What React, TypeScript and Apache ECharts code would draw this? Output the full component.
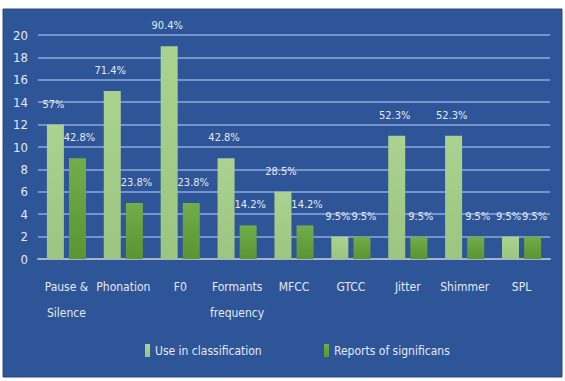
import React, { useEffect, useRef } from "react";
import * as echarts from "echarts";

const categories = [
  "Pause &\nSilence",
  "Phonation",
  "F0",
  "Formants\nfrequency",
  "MFCC",
  "GTCC",
  "Jitter",
  "Shimmer",
  "SPL",
];
const seriesNames = ["Use in classification", "Reports of significans"];
const useValues = [12, 15, 19, 9, 6, 2, 11, 11, 2];
const useLabels = ["57%", "71.4%", "90.4%", "42.8%", "28.5%", "9.5%", "52.3%", "52.3%", "9.5%"];
const reportValues = [9, 5, 5, 3, 3, 2, 2, 2, 2];
const reportLabels = ["42.8%", "23.8%", "23.8%", "14.2%", "14.2%", "9.5%", "9.5%", "9.5%", "9.5%"];
const yTicks = { min: 0, max: 20, interval: 2 };

const FONT = "'DejaVu Sans Condensed', 'Liberation Sans Narrow', sans-serif";
const TEXT = "#e4e9f2";

export default function App() {
  const ref = useRef<HTMLDivElement>(null);
  useEffect(() => {
    if (!ref.current) return;
    const chart = echarts.init(ref.current, null, { renderer: "svg" });
    const lightGrad = new echarts.graphic.LinearGradient(0, 0, 0, 1, [
      { offset: 0, color: "#aad290" },
      { offset: 1, color: "#9bc581" },
    ]);
    const darkGrad = new echarts.graphic.LinearGradient(0, 0, 0, 1, [
      { offset: 0, color: "#72ac4b" },
      { offset: 1, color: "#5a9532" },
    ]);
    const labelBase = {
      show: true,
      position: "top",
      distance: 15,
      color: TEXT,
      fontSize: 11,
      fontFamily: FONT,
    };
    chart.setOption({
      animation: false,
      backgroundColor: "#ffffff",
      textStyle: { fontFamily: FONT },
      graphic: [
        {
          type: "rect",
          z: -10,
          shape: { x: 3, y: 9, width: 559, height: 368 },
          style: { fill: "#2e5597", stroke: "#27487f", lineWidth: 1 },
        },
      ],
      grid: { left: 38, right: 15, top: 35, bottom: 122 },
      legend: [
        {
          data: [seriesNames[0]],
          left: 140,
          top: 339,
          itemWidth: 5,
          itemHeight: 13,
          icon: "rect",
          textStyle: { color: TEXT, fontSize: 12, fontFamily: FONT },
        },
        {
          data: [seriesNames[1]],
          left: 319,
          top: 339,
          itemWidth: 5,
          itemHeight: 13,
          icon: "rect",
          textStyle: { color: TEXT, fontSize: 12, fontFamily: FONT },
        },
      ],
      xAxis: {
        type: "category",
        data: categories,
        axisTick: { show: false },
        axisLine: { lineStyle: { color: "#a9b3c6", width: 2 } },
        axisLabel: {
          interval: 0,
          color: TEXT,
          fontSize: 12,
          fontFamily: FONT,
          margin: 15,
          lineHeight: 26,
        },
      },
      yAxis: {
        type: "value",
        min: yTicks.min,
        max: yTicks.max,
        interval: yTicks.interval,
        axisLine: { show: false },
        axisTick: { show: false },
        axisLabel: { color: TEXT, fontSize: 13, fontFamily: FONT, margin: 10 },
        splitLine: { lineStyle: { color: "#8faadc", width: 1.5 } },
      },
      series: [
        {
          name: seriesNames[0],
          type: "bar",
          data: useValues,
          itemStyle: { color: lightGrad },
          barWidth: 17,
          barGap: "30%",
          label: {
            ...labelBase,
            offset: [-2, 0],
            formatter: (p: any) => useLabels[p.dataIndex],
          },
        },
        {
          name: seriesNames[1],
          type: "bar",
          data: reportValues,
          itemStyle: { color: darkGrad },
          barWidth: 17,
          barGap: "30%",
          label: {
            ...labelBase,
            offset: [2, 0],
            formatter: (p: any) => reportLabels[p.dataIndex],
          },
        },
      ],
    });
    return () => chart.dispose();
  }, []);
  return (
    <div
      ref={ref}
      style={{ position: "fixed", left: 0, top: 0, width: 565, height: 381 }}
    />
  );
}
